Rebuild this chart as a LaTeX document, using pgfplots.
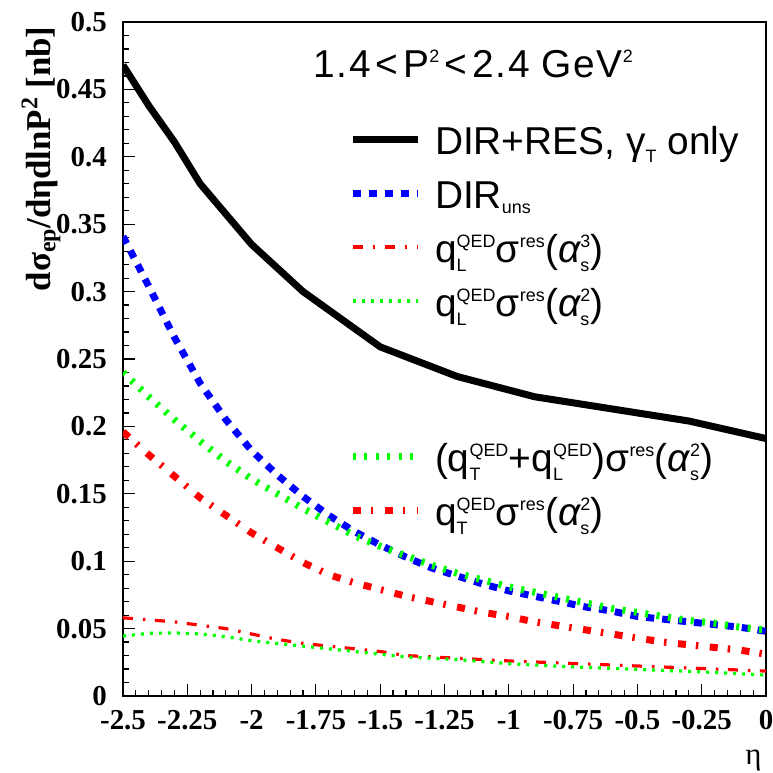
\documentclass[border=0pt]{standalone}
\usepackage{fix-cm}
\usepackage{fontspec}
\setmainfont{Liberation Serif}
\newfontfamily\lsans{Liberation Sans}
\usepackage{amsmath}
\usepackage{graphicx}
\usepackage{pgfplots}
\pgfplotsset{compat=1.18}
\DeclareMathSizes{39}{39}{18}{13}
\DeclareMathSizes{35}{35}{24}{18}
\definecolor{rootblue}{RGB}{0,0,255}
\definecolor{rootred}{RGB}{255,0,0}
\definecolor{rootgreen}{RGB}{0,255,0}
\newcommand{\T}[1]{\text{#1}}
\pgfplotsset{
  blk/.style={black, line width=7bp, solid},
  blu/.style={rootblue, line width=7bp, dash pattern=on 8bp off 8bp},
  redthin/.style={rootred, line width=3.2bp, dash pattern=on 10bp off 10bp on 2.5bp off 9.5bp},
  grnthin/.style={rootgreen, line width=3.2bp, dash pattern=on 3bp off 6bp},
  grnthick/.style={rootgreen, line width=7bp, dash pattern=on 3bp off 8.5bp},
  redthick/.style={rootred, line width=7bp, dash pattern=on 8bp off 10bp on 2.5bp off 11.5bp},
  mylegend/.style={
    legend cell align=left,
    legend image code/.code={\draw[##1] (0bp,0bp) -- (65bp,0bp); \path (79bp,0bp);},
    legend style={draw=none, fill=none, inner sep=0bp, outer sep=0bp, row sep=0bp,
      font=\lsans\fontsize{39}{44}\selectfont,
      nodes={inner sep=0bp, text height=42bp, text depth=12bp}},
  },
}
\begin{document}
\begin{tikzpicture}
\useasboundingbox (-123bp,-77bp) rectangle (650bp,696bp);
\begin{axis}[
  at={(0,0)}, anchor=south west,
  scale only axis, width=643bp, height=674bp,
  xmin=-2.5, xmax=0, ymin=0, ymax=0.5,
  clip mode=individual,
  axis line style={line width=1.6bp},
  xtick={-2.5,-2.25,-2,-1.75,-1.5,-1.25,-1,-0.75,-0.5,-0.25,0},
  xticklabels={-2.5,-2.25,-2,-1.75,-1.5,-1.25,-1,-0.75,-0.5,-0.25,0},
  ytick={0,0.05,0.1,0.15,0.2,0.25,0.3,0.35,0.4,0.45,0.5},
  yticklabels={0,0.05,0.1,0.15,0.2,0.25,0.3,0.35,0.4,0.45,0.5},
  minor x tick num=4, minor y tick num=4,
  xtick pos=bottom, ytick pos=left, tick align=inside,
  major tick length=12bp, minor tick length=6bp,
  every tick/.style={line width=1.2bp, black},
  tick label style={font=\fontsize{29}{32}\selectfont\bfseries},
  xticklabel style={inner sep=0bp, yshift=-14bp},
  yticklabel style={inner sep=0bp, xshift=-16bp},
  mylegend,
  legend style={at={(axis description cs:0.3515,0.8664)}, anchor=north west},
]
\addplot[blk] coordinates {(-2.5,0.468) (-2.4,0.438) (-2.3,0.411) (-2.2,0.380) (-2.0,0.335) (-1.8,0.300) (-1.5,0.259) (-1.2,0.237) (-0.9,0.222) (-0.6,0.213) (-0.3,0.204) (0,0.191)};
\addlegendentry{DIR+RES, $\T{γ}_{\T{T}}$ only}
\addplot[blu] coordinates {(-2.5,0.341) (-2.4,0.304) (-2.3,0.266) (-2.2,0.232) (-2.1,0.205) (-2.0,0.182) (-1.9,0.164) (-1.8,0.148) (-1.7,0.134) (-1.6,0.122) (-1.5,0.112) (-1.4,0.103) (-1.3,0.095) (-1.2,0.089) (-1.1,0.083) (-1.0,0.078) (-0.9,0.074) (-0.8,0.070) (-0.7,0.066) (-0.6,0.063) (-0.5,0.059) (-0.4,0.057) (-0.3,0.055) (-0.2,0.053) (-0.1,0.051) (0,0.048)};
\addlegendentry{DIR$_{\T{uns}}$}
\addplot[redthin] coordinates {(-2.5,0.058) (-2.4,0.0565) (-2.3,0.055) (-2.2,0.0525) (-2.1,0.050) (-2.0,0.046) (-1.9,0.042) (-1.8,0.039) (-1.7,0.037) (-1.6,0.035) (-1.5,0.033) (-1.4,0.030) (-1.3,0.029) (-1.2,0.028) (-1.0,0.026) (-0.8,0.0245) (-0.6,0.023) (-0.4,0.0215) (-0.2,0.020) (0,0.0185)};
\addlegendentry{$\T{q}_{\T{L}}^{\T{QED}}\T{σ}^{\T{res}}\T{(}\T{\itshape α}_{\T{s}}^{\T{3}}\T{)}$}
\addplot[grnthin] coordinates {(-2.5,0.0445) (-2.4,0.0465) (-2.3,0.0468) (-2.2,0.046) (-2.1,0.044) (-2.0,0.041) (-1.9,0.039) (-1.8,0.037) (-1.7,0.035) (-1.6,0.033) (-1.5,0.031) (-1.4,0.029) (-1.3,0.028) (-1.2,0.027) (-1.0,0.024) (-0.8,0.022) (-0.6,0.0205) (-0.4,0.019) (-0.2,0.0175) (0,0.0155)};
\addlegendentry{$\T{q}_{\T{L}}^{\T{QED}}\T{σ}^{\T{res}}\T{(}\T{\itshape α}_{\T{s}}^{\T{2}}\T{)}$}
\addplot[grnthick, forget plot] coordinates {(-2.5,0.240) (-2.4,0.222) (-2.3,0.205) (-2.2,0.189) (-2.1,0.174) (-2.0,0.161) (-1.9,0.150) (-1.8,0.139) (-1.7,0.129) (-1.6,0.119) (-1.5,0.111) (-1.4,0.104) (-1.3,0.097) (-1.2,0.091) (-1.1,0.086) (-1.0,0.081) (-0.9,0.077) (-0.8,0.073) (-0.7,0.069) (-0.6,0.065) (-0.5,0.062) (-0.4,0.059) (-0.3,0.056) (-0.2,0.054) (-0.1,0.051) (0,0.049)};
\addplot[redthick, forget plot] coordinates {(-2.5,0.196) (-2.4,0.179) (-2.3,0.163) (-2.2,0.147) (-2.1,0.134) (-2.0,0.121) (-1.9,0.110) (-1.8,0.099) (-1.7,0.090) (-1.6,0.084) (-1.5,0.079) (-1.4,0.074) (-1.3,0.070) (-1.2,0.066) (-1.1,0.062) (-1.0,0.059) (-0.9,0.055) (-0.8,0.052) (-0.7,0.049) (-0.6,0.046) (-0.5,0.043) (-0.4,0.040) (-0.3,0.038) (-0.2,0.036) (-0.1,0.034) (0,0.031)};
\node[anchor=base west, font=\lsans\fontsize{39}{44}\selectfont\addfontfeatures{LetterSpace=4}] at (axis description cs:0.2910,0.9184) {1.4\hspace{5bp}<\hspace{5bp}P$^{\T{2}}$\hspace{5bp}<\hspace{5bp}2.4 GeV$^{\T{2}}$};
\node[anchor=base east, rotate=90, font=\fontsize{35}{40}\selectfont\bfseries] at (axis description cs:-0.1135,0.9985) {dσ\textsubscript{ep}/dηdlnP\textsuperscript{2} [nb]};
\node[anchor=base east, font=\fontsize{31}{36}\selectfont] at (axis description cs:0.9985,-0.1009) {η};
\end{axis}
\begin{axis}[
  at={(0,0)}, anchor=south west,
  scale only axis, width=643bp, height=674bp,
  xmin=-2.5, xmax=0, ymin=0, ymax=0.5, hide axis,
  mylegend,
  legend style={at={(axis description cs:0.3515,0.3961)}, anchor=north west},
]
\addlegendimage{grnthick}
\addlegendentry{$\T{(}\T{q}_{\T{T}}^{\T{QED}}\T{+}\T{q}_{\T{L}}^{\T{QED}}\T{)}\T{σ}^{\T{res}}\T{(}\T{\itshape α}_{\T{s}}^{\T{2}}\T{)}$}
\addlegendimage{redthick}
\addlegendentry{$\T{q}_{\T{T}}^{\T{QED}}\T{σ}^{\T{res}}\T{(}\T{\itshape α}_{\T{s}}^{\T{2}}\T{)}$}
\end{axis}
\end{tikzpicture}
\end{document}
